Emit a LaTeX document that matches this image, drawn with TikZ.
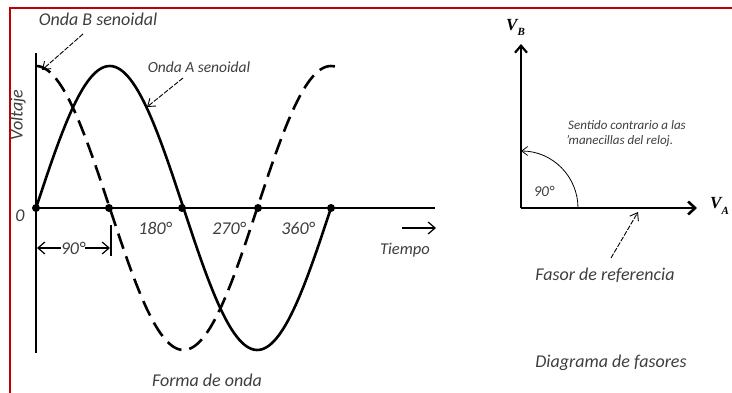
\documentclass[tikz,border=0pt]{standalone}
\usepackage{fontspec}
\setmainfont{Carlito}
\newfontfamily\vfont{Liberation Serif}
\usetikzlibrary{arrows.meta}
\definecolor{redb}{RGB}{192,0,0}
\definecolor{txt}{RGB}{62,62,62}
\begin{document}
\begin{tikzpicture}[x=1pt,y=-1pt,
  lbl/.style={font=\itshape\fontsize{18}{18}\selectfont, text=txt, inner sep=0pt},
  lblA/.style={font=\itshape\fontsize{15.5}{15.5}\selectfont, text=txt, inner sep=0pt},
  lblS/.style={font=\itshape\fontsize{13}{13}\selectfont, text=txt, inner sep=0pt, align=left},
  lblT/.style={font=\itshape\fontsize{16.5}{16.5}\selectfont, text=txt, inner sep=0pt},
  vlbl/.style={font=\vfont\bfseries\itshape\fontsize{17}{17}\selectfont, inner sep=0pt},
  axisline/.style={line width=2.6pt},
  waveA/.style={line width=2.6pt},
  waveB/.style={line width=2.6pt, dash pattern=on 16pt off 8pt},
  ptr/.style={line width=0.9pt, dash pattern=on 5pt off 1.5pt, -{Straight Barb[length=7pt,width=10pt]}},
  barb/.style={line width=1.2pt, -{Straight Barb[length=7pt,width=12pt]}},
  dot/.style={circle, fill=black, inner sep=0pt, minimum size=8pt}
]
\useasboundingbox (0,0) rectangle (732,393);
% red frame
\draw[redb, line width=2pt] (10,393) -- (10,8) -- (732,8);

% axes
\coordinate (ytop) at (36,53);
\coordinate (ybot) at (36,353);
\coordinate (xend) at (435,208);
\draw[axisline] (ytop) -- (ybot);
\draw[axisline] (36,208) -- (xend);

% waves
\draw[waveA, domain=36:331, samples=120, smooth] plot (\x, {208 - 142*sin((\x-36)/295*360)});
\draw[waveB, domain=36:338, samples=120, smooth] plot (\x, {208 - 142*cos((\x-36)/295*360)});

% zero crossing dots
\node[dot] (z0) at (36,208) {};
\node[dot] (z90) at (109,208) {};
\node[dot] (z180) at (182,208) {};
\node[dot] (z270) at (258,208) {};
\node[dot] (z360) at (331,208) {};

% labels
\node[lbl] (zero) at (20,216) {0};
\node[lbl] (d180) at (155,228) {180°};
\node[lbl] (d270) at (229,228) {270°};
\node[lbl] (d360) at (298,228) {360°};
\node[lblT] (tiempo) at (405,250) {Tiempo};
\coordinate (ta1) at (402,228);
\coordinate (ta2) at (436,228);
\draw[barb] (ta1) -- (ta2);
\node[lbl, rotate=90] (voltaje) at (18,115) {Voltaje};

% 90 degree interval
\node[lbl] (d90) at (73,248) {90°};
\coordinate (l90) at (37,248);
\coordinate (r90) at (110,248);
\draw[barb] (d90.west) -- (l90);
\draw[barb] (d90.east) -- (r90);
\coordinate (bar1) at (111,225);
\coordinate (bar2) at (111,256);
\draw[line width=1.2pt] (bar1) -- (bar2);

% wave labels
\node[lbl] (ondaB) at (98,19) {Onda B senoidal};
\coordinate (bs) at (83,34);
\coordinate (bpk) at (42,70);
\draw[ptr] (bs) -- (bpk);
\node[lblA] (ondaA) at (199,67) {Onda A senoidal};
\coordinate (as) at (183,78);
\coordinate (aw) at (147,107);
\draw[ptr] (as) -- (aw);

\node[lbl] (forma) at (207,380) {Forma de onda};

% phasor diagram
\coordinate (o) at (521,208);
\coordinate (vbtip) at (521,44);
\coordinate (vatip) at (697,208);
\draw[line width=2.2pt, -{Straight Barb[length=7pt,width=12pt]}] (o) -- (vbtip);
\draw[line width=2.6pt, -{Straight Barb[length=7pt,width=13pt]}] (o) -- (vatip);
\node[vlbl, anchor=west] (vb) at (506,27) {V\raisebox{-5pt}{\fontsize{11}{11}\selectfont B}};
\node[vlbl, anchor=west] (va) at (710,206) {V\raisebox{-6pt}{\fontsize{11}{11}\selectfont A}};
\coordinate (arcs) at (578,208);
\draw[line width=0.8pt, -{Straight Barb[length=6pt,width=9pt]}] (arcs) arc[start angle=0, end angle=-90, radius=57];
\node[lbl, font=\itshape\fontsize{15}{15}\selectfont] (d90b) at (544,191) {90°};
\node[lblS, anchor=west] (sentido) at (568,125) {Sentido contrario a las};
\node[lblS, anchor=west] (manec) at (566,141) {'manecillas del reloj.};
\node[lbl] (fasor) at (605,275) {Fasor de referencia};
\coordinate (fs) at (611,258);
\coordinate (fe) at (638,212);
\draw[ptr] (fs) -- (fe);
\node[lbl] (diag) at (611,363) {Diagrama de fasores};
\end{tikzpicture}
\end{document}
